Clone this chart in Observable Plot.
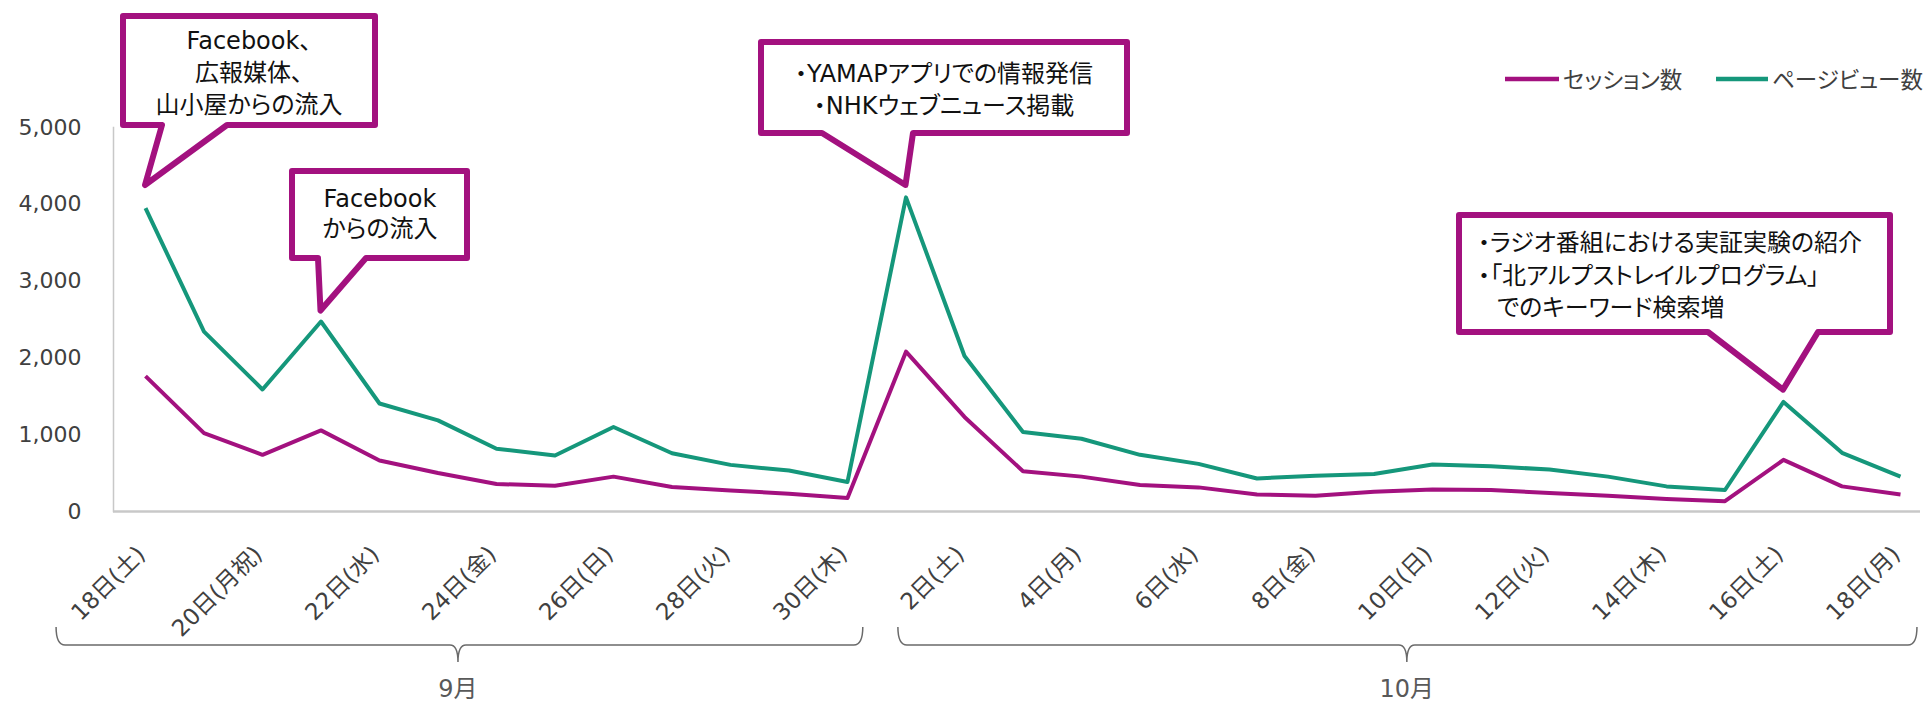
<!DOCTYPE html>
<html><head><meta charset="utf-8">
<script src="https://cdn.jsdelivr.net/npm/d3@7"></script>
<script src="https://cdn.jsdelivr.net/npm/@observablehq/plot@0.6"></script>
<style>
html,body{margin:0;padding:0;background:#fff;}
#chart svg{display:block;font-feature-settings:"palt";}
</style></head><body><div id="chart"></div>
<script>
// ---- data ----
const dayLabels = ["18日(土)","19日(日)","20日(月祝)","21日(火)","22日(水)","23日(木)","24日(金)","25日(土)","26日(日)","27日(月)","28日(火)","29日(水)","30日(木)",
  "1日(金)","2日(土)","3日(日)","4日(月)","5日(火)","6日(水)","7日(木)","8日(金)","9日(土)","10日(日)","11日(月)","12日(火)","13日(水)","14日(木)","15日(金)","16日(土)","17日(日)","18日(月)"];
const sessions  = [1763,1021,738,1056,664,502,358,336,454,318,275,232,175,2081,1231,524,454,345,314,222,205,258,288,280,241,205,162,135,672,327,220];
const pageviews = [3950,2343,1589,2474,1406,1187,817,729,1100,759,607,533,385,4090,2025,1034,947,738,620,430,467,489,611,589,546,454,327,280,1427,764,455];
const seriesNames = ["セッション数","ページビュー数"];
const seriesColors = ["#A3117F","#15977B"];
const yTicks = [0,1000,2000,3000,4000,5000];
const tickIndex = d3.range(0, 31, 2);
const months = [
  {label:"9月", start:-1.52, end:12.27, mid:5.35},
  {label:"10月", start:12.87, end:30.29, mid:21.57}
];
const callouts = [
  {lines:["Facebook、","広報媒体、","山小屋からの流入"], tipIndex:0, tipValue:4245, align:"middle"},
  {lines:["Facebook","からの流入"], tipIndex:3, tipValue:2610, align:"middle"},
  {lines:["・YAMAPアプリでの情報発信","・NHKウェブニュース掲載"], tipIndex:13, tipValue:4245, align:"middle"},
  {lines:["・ラジオ番組における実証実験の紹介","・「北アルプストレイルプログラム」","でのキーワード検索増"], tipIndex:28, tipValue:1580, align:"start"}
];
// ---- layout (pixels) ----
const calloutLayout = [
  {box:[123,16,375,125], base:[162,227], lineY:[41,73,105], textX:249},
  {box:[292,171,467,258], base:[318,366], lineY:[199,229], textX:380},
  {box:[761,42,1127,133], base:[822,913], lineY:[74,106], textX:944},
  {box:[1459,215,1890,332], base:[1708,1818], lineY:[243,276,308], textX:[1478,1478,1497]}
];

const rows = [];
sessions.forEach((v,i)=>rows.push({i, value:v, series:seriesNames[0]}));
pageviews.forEach((v,i)=>rows.push({i, value:v, series:seriesNames[1]}));

const FONT = "'DejaVu Sans','Noto Sans CJK JP',sans-serif";
const W = 1927, H = 707;

const plot = Plot.plot({
  width: W, height: H,
  marginTop: 127, marginBottom: 196, marginLeft: 113, marginRight: 7,
  style: {fontFamily: FONT, fontSize: "22px", background: "#fff", overflow: "visible"},
  x: {type: "linear", domain: [-0.547, 30.342], axis: null},
  y: {domain: [0, 5000], axis: null},
  color: {domain: seriesNames, range: seriesColors},
  marks: [
    Plot.frame({anchor: "left", stroke: "#c8c8c8", strokeWidth: 1.5}),
    Plot.ruleY([0], {stroke: "#c8c8c8", strokeWidth: 2.5}),
    Plot.axisY({ticks: yTicks, tickFormat: d3.format(","), tickSize: 0, tickPadding: 32, fontSize: 22, fill: "#404040", label: null}),
    Plot.text(tickIndex, {x: d => d, y: () => 0, text: d => dayLabels[d], rotate: -45, textAnchor: "end", dx: -4, dy: 39, fontSize: 23, fill: "#404040"}),
    Plot.line(rows, {x: "i", y: "value", z: "series", stroke: "series", strokeWidth: 4, strokeLinejoin: "round", strokeLinecap: "butt"})
  ]
});

document.getElementById("chart").appendChild(plot);

const xs = plot.scale("x"), ys = plot.scale("y");
const svg = d3.select(plot);
const g = svg.append("g").attr("font-family", FONT);

// brackets
months.forEach(m => {
  const x1 = xs.apply(m.start), x2 = xs.apply(m.end), xc = xs.apply(m.mid);
  const yTop = 627, yH = 645, yBot = 662;
  const p = `M${x1},${yTop} Q${x1},${yH} ${x1+9},${yH} L${xc-8},${yH} Q${xc},${yH} ${xc},${yBot} Q${xc},${yH} ${xc+8},${yH} L${x2-9},${yH} Q${x2},${yH} ${x2},${yTop}`;
  g.append("path").attr("d", p).attr("fill","none").attr("stroke","#6a6a6a").attr("stroke-width",1.5);
  g.append("text").attr("x", xc).attr("y", 689).attr("dy","0.35em").attr("text-anchor","middle")
    .attr("font-size", 24).attr("fill","#595959").text(m.label);
});

// callouts
callouts.forEach((c, k) => {
  const L = calloutLayout[k];
  const tx = xs.apply(c.tipIndex), ty = ys.apply(c.tipValue);
  const [bx1, by1, bx2, by2] = L.box;
  const p = `M${bx1},${by1} L${bx2},${by1} L${bx2},${by2} L${L.base[1]},${by2} L${tx},${ty} L${L.base[0]},${by2} L${bx1},${by2} Z`;
  g.append("path").attr("d", p).attr("fill","#fff").attr("stroke","#A3117F").attr("stroke-width",6).attr("stroke-linejoin","round");
  c.lines.forEach((line, j) => {
    const x = Array.isArray(L.textX) ? L.textX[j] : L.textX;
    g.append("text").attr("x", x).attr("y", L.lineY[j]).attr("dy","0.35em")
      .attr("text-anchor", c.align).attr("font-size", 24).attr("fill","#111").text(line);
  });
});

// legend
const legend = [
  {x1:1505, x2:1559, tx:1563},
  {x1:1716, x2:1768, tx:1772}
];
seriesNames.forEach((s, k) => {
  const L = legend[k];
  g.append("line").attr("x1",L.x1).attr("x2",L.x2).attr("y1",79).attr("y2",79)
    .attr("stroke", seriesColors[k]).attr("stroke-width",4.5);
  g.append("text").attr("x", L.tx).attr("y", 80).attr("dy","0.35em").attr("text-anchor","start")
    .attr("font-size",22.5).attr("fill","#404040").text(s);
});
</script></body></html>
